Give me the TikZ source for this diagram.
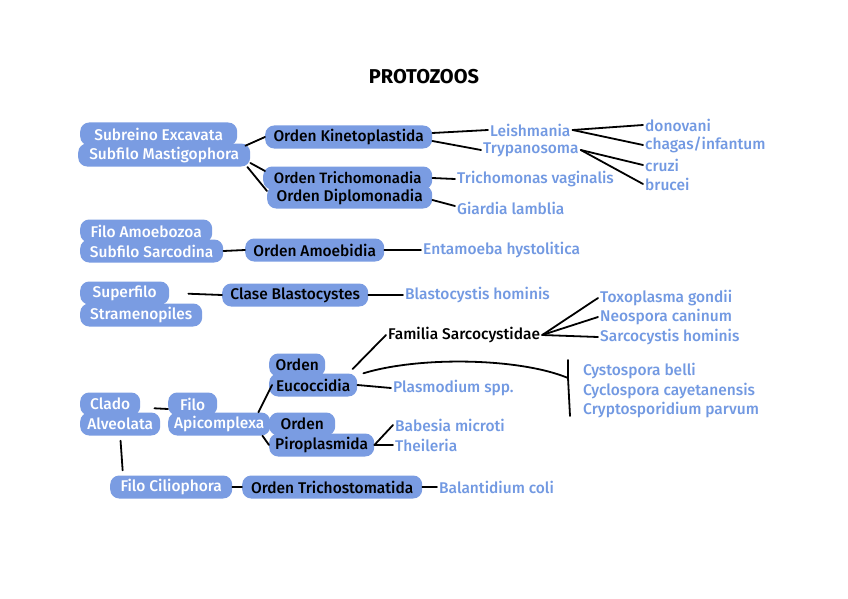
\documentclass[tikz,border=0pt]{standalone}
\usepackage{fontspec}
\setmainfont{Fira Sans}[UprightFont=* Medium, BoldFont=* Bold]
\definecolor{boxblue}{HTML}{7A9CE2}
\definecolor{txtblue}{HTML}{7299E2}
\begin{document}
\begin{tikzpicture}[x=1pt,y=-1pt,
 fnt/.style={font=\fontsize{15.5}{18}\selectfont},
 bb/.style={fnt, fill=boxblue, rounded corners=9pt, text=white, minimum height=23pt, inner xsep=6pt, inner ysep=2pt, anchor=west},
 ob/.style={bb, text=black},
 sp/.style={fnt, text=txtblue, inner sep=2pt, anchor=west},
 bk/.style={sp, text=black},
 ln/.style={draw=black, line width=1.8pt, line cap=round}]
\useasboundingbox (0,0) rectangle (848,599);
\fill[white] (0,0) rectangle (848,599);

\node[font=\fontsize{20}{22}\selectfont\bfseries] (title) at (424,77) {PROTOZOOS};

% boxes
\node[bb, minimum width=157pt] (exc) at (80,134) {Subreino Excavata};
\node[bb, minimum width=172pt] (mast) at (78,155) {Subfilo Mastigophora};
\node[ob, minimum width=167pt] (kin) at (265,137) {Orden Kinetoplastida};
\node[ob, minimum width=169pt, inner xsep=3pt, font=\fontsize{15}{18}\selectfont] (tri) at (263,178) {Orden Trichomonadia};
\node[ob, minimum width=165pt, inner xsep=3pt] (dip) at (267,197) {Orden Diplomonadia};
\node[bb, minimum width=132pt] (amz) at (80,231) {Filo Amoebozoa};
\node[bb, minimum width=143pt] (sar) at (80,251) {Subfilo Sarcodina};
\node[ob, minimum width=139pt] (amb) at (245,250) {Orden Amoebidia};
\node[bb, minimum width=89pt] (sup) at (80,293) {Superfilo};
\node[bb, minimum width=122pt] (str) at (80,315) {Stramenopiles};
\node[ob, minimum width=146pt] (bla) at (222,295) {Clase Blastocystes};
\node[ob, minimum width=56pt] (ord1) at (269,365) {Orden};
\node[ob, minimum width=88pt] (euc) at (269,385) {Eucoccidia};
\node[bb, minimum width=60pt] (cla) at (80,404) {Clado};
\node[bb, minimum width=80pt] (alv) at (80,424) {Alveolata};
\node[bb, minimum width=49pt] (filo) at (168,404) {Filo};
\node[bb, minimum width=100pt] (api) at (168,424) {Apicomplexa};
\node[ob, minimum width=66pt] (ord2) at (269,424) {Orden};
\node[ob, minimum width=105pt] (pir) at (269,445) {Piroplasmida};
\node[bb, minimum width=122pt] (cil) at (110,487) {Filo Ciliophora};
\node[ob, minimum width=180pt] (tric) at (242,487) {Orden Trichostomatida};

% species
\node[sp] (leish) at (488,130) {Leishmania};
\node[sp] (tryp) at (481,150) {Trypanosoma};
\node[sp] (don) at (643,125) {donovani};
\node[sp] (chag) at (643,145) {chagas/infantum};
\node[sp] (cruzi) at (643,165) {cruzi};
\node[sp] (bruc) at (643,184) {brucei};
\node[sp] (tvag) at (455,179) {Trichomonas vaginalis};
\node[sp] (giar) at (455,208) {Giardia lamblia};
\node[sp] (ent) at (421,250) {Entamoeba hystolitica};
\node[sp] (blh) at (403,295) {Blastocystis hominis};
\node[bk] (fam) at (386,335) {Familia Sarcocystidae};
\node[sp] (toxo) at (598,298) {Toxoplasma gondii};
\node[sp] (neo) at (598,317) {Neospora caninum};
\node[sp] (sarh) at (598,337) {Sarcocystis hominis};
\node[sp] (plas) at (391,388) {Plasmodium spp.};
\node[sp] (cyst) at (581,371) {Cystospora belli};
\node[sp] (cycl) at (581,391) {Cyclospora cayetanensis};
\node[sp] (cryp) at (581,410) {Cryptosporidium parvum};
\node[sp] (bab) at (393,425) {Babesia microti};
\node[sp] (thei) at (393,445) {Theileria};
\node[sp] (bal) at (437,487) {Balantidium coli};

\coordinate (brk) at (568,378);
\coordinate (brkT) at (568,360);
\coordinate (brkB) at (570,416);

% connectors
\draw[ln] ([xshift=8pt]exc.south east) -- (kin.west);
\draw[ln] ([yshift=-8pt]mast.east) -- ([xshift=2pt,yshift=7pt]tri.west);
\draw[ln] ([xshift=-3pt,yshift=-12pt]mast.east) -- ([yshift=6pt]dip.west);
\draw[ln] ([yshift=4pt]kin.east) -- (leish.west);
\draw[ln] ([yshift=-4pt]kin.east) -- (tryp.west);
\draw[ln] (leish.east) -- (don.west);
\draw[ln] (leish.east) -- (chag.west);
\draw[ln] (tryp.east) -- (cruzi.west);
\draw[ln] (tryp.east) -- (bruc.west);
\draw[ln] (tri.east) -- (tvag.west);
\draw[ln] ([yshift=-3pt]dip.east) -- ([yshift=2pt]giar.west);
\draw[ln] (sar.east) -- (amb.west);
\draw[ln] (amb.east) -- (ent.west);
\draw[ln, shorten <=19pt] (sup.east) -- (bla.west);
\draw[ln] (bla.east) -- (blh.west);
\draw[ln] (fam.east) -- (toxo.west);
\draw[ln] (fam.east) -- (neo.west);
\draw[ln] (fam.east) -- (sarh.west);
\draw[ln, shorten <=6pt] ([xshift=-9pt]euc.north east) -- (fam.west);
\draw[ln] ([xshift=6pt]euc.north east) .. controls (420,356) and (520,358) .. (brk);
\draw[ln] (brkT) -- (brk) -- (brkB);
\draw[ln] (euc.east) -- (plas.west);
\draw[ln] ([xshift=-6pt,yshift=4pt]alv.north east) -- ([yshift=-5pt]filo.west);
\draw[ln] ([xshift=-12pt]api.north east) -- ([xshift=3pt]euc.west);
\draw[ln] ([xshift=-8pt]api.south east) -- (pir.west);
\draw[ln] (pir.east) -- (bab.west);
\draw[ln] (pir.east) -- (thei.west);
\draw[ln, shorten <=5pt, shorten >=5pt] (alv.south) -- ([xshift=13pt]cil.north west);
\draw[ln] (cil.east) -- (tric.west);
\draw[ln] (tric.east) -- (bal.west);
\end{tikzpicture}
\end{document}
